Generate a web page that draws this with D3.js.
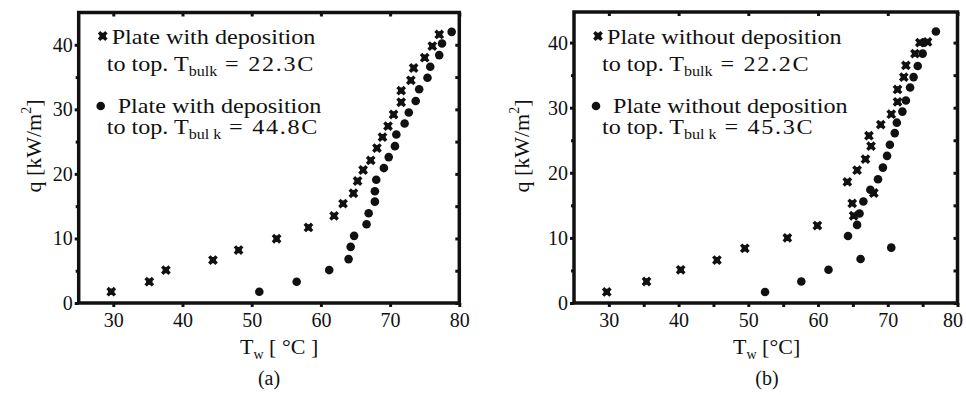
<!DOCTYPE html>
<html>
<head>
<meta charset="utf-8">
<script src="https://cdn.jsdelivr.net/npm/d3@7"></script>
<style>
  body { margin: 0; background: #fff; }
  svg text { font-family: "Liberation Serif", "Times New Roman", serif; fill: #111; }
</style>
</head>
<body>
<svg id="chart" width="966" height="395"></svg>
<script>
// x: wall temperature Tw [°C], y: heat flux q [kW/m2]
const xTicks = [30, 40, 50, 60, 70, 80];
const yTicks = [0, 10, 20, 30, 40];
const yMinor = [5, 15, 25, 35];

// (a) plate with deposition
const aLowTw = [29.7, 35.2, 37.6, 44.4, 48.1, 53.6, 58.2, 61.9, 63.2, 64.7, 65.3, 66.1, 67.2, 68.1, 68.9, 69.7, 70.5, 71.6, 71.6, 73.0, 73.4, 75.0, 76.1, 77.1];
const aLowQ  = [1.75, 3.3, 5.1, 6.65, 8.2, 9.95, 11.7, 13.5, 15.4, 17.0, 18.9, 20.6, 22.1, 24.0, 25.7, 27.4, 29.2, 31.1, 32.9, 34.5, 36.4, 38.0, 39.8, 41.6];
const aHighTw = [51.1, 56.5, 61.2, 64.0, 64.3, 64.8, 66.6, 66.9, 67.8, 67.8, 68.0, 69.1, 69.8, 70.7, 70.9, 72.1, 72.7, 73.7, 74.2, 75.4, 75.8, 77.1, 77.5, 78.9];
const aHighQ  = [1.75, 3.3, 5.1, 6.8, 8.7, 10.4, 12.2, 13.9, 15.7, 17.3, 19.1, 20.9, 22.6, 24.3, 26.1, 27.8, 29.5, 31.3, 33.1, 34.9, 36.6, 38.4, 40.2, 42.0];

// (b) plate without deposition
const bLowTw = [29.7, 35.4, 40.3, 45.5, 49.5, 55.6, 59.9, 65.1, 64.9, 68.0, 64.2, 65.6, 66.8, 67.6, 67.3, 69.0, 70.5, 71.4, 71.4, 72.3, 72.6, 73.9, 74.6, 75.7];
const bLowQ  = [1.7, 3.3, 5.1, 6.6, 8.4, 10.0, 11.9, 13.4, 15.3, 16.9, 18.6, 20.4, 22.1, 24.1, 25.7, 27.4, 29.0, 30.9, 32.8, 34.7, 36.5, 38.3, 40.0, 40.1];
const bHighTw = [52.4, 57.6, 61.5, 66.1, 70.5, 64.3, 65.6, 65.95, 66.5, 67.5, 68.6, 69.3, 69.9, 70.3, 71.0, 71.3, 72.1, 72.6, 73.2, 73.7, 74.3, 75.0, 75.2, 76.9];
const bHighQ  = [1.7, 3.3, 5.1, 6.75, 8.5, 10.3, 12.0, 13.75, 15.6, 17.4, 19.0, 20.8, 22.6, 24.3, 26.1, 27.7, 29.4, 31.1, 33.1, 34.7, 36.4, 38.3, 40.0, 41.7];

const svg = d3.select('#chart');
const ink = '#111';

function star(sel) {
  sel.append('path').attr('d', d3.symbol(d3.symbolCross, 60)()).attr('transform', 'rotate(45)').attr('fill', ink);
  sel.append('path').attr('d', d3.symbol(d3.symbolCross, 22)()).attr('fill', ink);
}
function dot(sel) {
  sel.append('circle').attr('r', 4.3).attr('fill', ink);
}

function drawPanel(p) {
  const x = d3.scaleLinear().domain([25, 80]).range([p.left, p.right]);
  const y = d3.scaleLinear().domain([0, p.yMax]).range([303, p.top]);
  const g = svg.append('g');

  const fmt = d3.format('d');
  const axes = [
    g.append('g').attr('class', 'xmaj').attr('transform', `translate(0,${y(0)})`).call(d3.axisBottom(x).tickValues(xTicks).tickSize(4).tickPadding(6).tickFormat(fmt)),
    g.append('g').attr('transform', `translate(0,${y(0)})`).call(d3.axisBottom(x).tickValues(p.xMinor).tickSize(4).tickFormat('')),
    g.append('g').attr('transform', `translate(0,${p.top})`).call(d3.axisTop(x).tickValues(xTicks).tickSize(-4).tickFormat('')),
    g.append('g').attr('transform', `translate(${p.left},0)`).call(d3.axisLeft(y).tickValues(yTicks).tickSize(4).tickPadding(2).tickFormat(fmt)),
    g.append('g').attr('transform', `translate(${p.left},0)`).call(d3.axisLeft(y).tickValues(yMinor).tickSize(3).tickFormat('')),
    g.append('g').attr('transform', `translate(${p.right},0)`).call(d3.axisRight(y).tickValues(yTicks.concat(yMinor)).tickSize(-4).tickFormat(''))
  ];
  axes.forEach(a => {
    a.select('.domain').remove();
    a.selectAll('line').attr('stroke', ink).attr('stroke-width', 3);
    a.selectAll('text').attr('font-size', 20).attr('fill', ink);
  });
  // last x label sits a little inside the frame
  g.select('.xmaj').selectAll('text').filter(d => d === 80).attr('dx', p.lastDx);

  g.append('rect')
    .attr('x', p.left).attr('y', p.top)
    .attr('width', p.right - p.left).attr('height', y(0) - p.top)
    .attr('fill', 'none').attr('stroke', ink).attr('stroke-width', 3.5);

  const lowPts = p.lowTw.map((t, i) => [t, p.lowQ[i]]);
  const highPts = p.highTw.map((t, i) => [t, p.highQ[i]]);
  g.selectAll('.lo').data(lowPts).enter().append('g').attr('class', 'lo')
    .attr('transform', d => `translate(${x(d[0])},${y(d[1])})`).call(star);
  g.selectAll('.hi').data(highPts).enter().append('g').attr('class', 'hi')
    .attr('transform', d => `translate(${x(d[0])},${y(d[1])})`).call(dot);

  // legend
  const lx = p.left;
  g.append('g').attr('transform', `translate(${lx + 24},36)`).call(star);
  g.append('g').attr('transform', `translate(${lx + 22},106)`).call(dot);
  const leg = [
    { x: lx + 33, y: 44, parts: [[p.label, 0]] },
    { x: lx + 28, y: 71, parts: [['to top. T', 0], ['bulk', 1], [' = ' + p.tLow + 'C', 0]] },
    { x: lx + 39, y: 113, parts: [[p.label, 0]] },
    { x: lx + 28, y: 134, parts: [['to top. T', 0], ['bul k', 1], [' = ' + p.tHigh + 'C', 0]] }
  ];
  leg.forEach(l => {
    const t = g.append('text').attr('transform', `translate(${l.x},${l.y}) scale(1.15,1)`).attr('font-size', 21);
    l.parts.forEach(pt => {
      const s = t.append('tspan').text(pt[0]);
      if (pt[1]) s.attr('font-size', 14).attr('dy', 5);
      else if (pt[0].startsWith(' =')) s.attr('dy', -5).attr('letter-spacing', 1.5);
    });
  });

  // axis titles
  const yt = g.append('text').attr('transform', `translate(${p.yLabX},146) rotate(-90)`)
    .attr('text-anchor', 'middle').attr('font-size', 22);
  yt.append('tspan').text('q  [kW/m');
  yt.append('tspan').text('2').attr('font-size', 14).attr('dy', -10);
  yt.append('tspan').text(']').attr('dy', 10);

  const xt = g.append('text').attr('x', p.xLabX).attr('y', 354).attr('font-size', 22);
  xt.append('tspan').text('T');
  xt.append('tspan').text('w').attr('font-size', 14).attr('dy', 5);
  xt.append('tspan').text(p.unit).attr('dy', -5);

  g.append('text').attr('x', p.capX).attr('y', 385).attr('text-anchor', 'middle')
    .attr('font-size', 20).text(p.caption);
}

drawPanel({
  left: 78.7, right: 459.3, top: 12.5, yMax: 45, xMinor: [], lastDx: 0,
  lowTw: aLowTw, lowQ: aLowQ, highTw: aHighTw, highQ: aHighQ,
  label: 'Plate with deposition', tLow: '22.3', tHigh: '44.8',
  yLabX: 41, xLabX: 240, unit: ' [ °C ]', capX: 269, caption: '(a)'
});
drawPanel({
  left: 574, right: 957.5, top: 12, yMax: 44.7, xMinor: [35, 45, 55, 65, 75], lastDx: -5,
  lowTw: bLowTw, lowQ: bLowQ, highTw: bHighTw, highQ: bHighQ,
  label: 'Plate without deposition', tLow: '22.2', tHigh: '45.3',
  yLabX: 529, xLabX: 733, unit: ' [°C]', capX: 767, caption: '(b)'
});
</script>
</body>
</html>
